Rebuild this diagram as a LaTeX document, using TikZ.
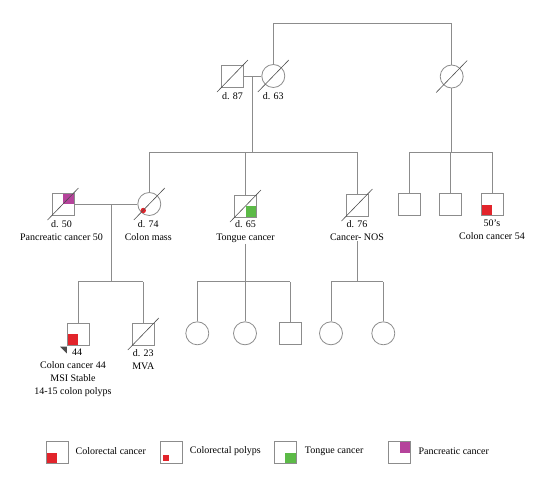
\documentclass[tikz,border=0pt]{standalone}
\usepackage{fontspec}
\setmainfont{Liberation Serif}
\usetikzlibrary{positioning}
\definecolor{pedline}{HTML}{8C8C8C}
\definecolor{slashline}{HTML}{4D4D4D}
\definecolor{colorectal}{HTML}{E2242B}
\definecolor{tongue}{HTML}{5CBA47}
\definecolor{pancreatic}{HTML}{B5439B}
\tikzset{
  male/.style={draw=pedline, line width=0.8pt, minimum size=22pt, inner sep=0pt},
  female/.style={circle, draw=pedline, line width=0.8pt, minimum size=23pt, inner sep=0pt},
  pedlab/.style={font=\fontsize{10}{13}\selectfont, align=center, inner sep=1pt},
  link/.style={draw=pedline, line width=0.8pt},
  lowleft/.style={path picture={\fill[#1] (path picture bounding box.south west) rectangle (path picture bounding box.center);}},
  lowright/.style={path picture={\fill[#1] (path picture bounding box.south east) rectangle (path picture bounding box.center);}},
  upright/.style={path picture={\fill[#1] (path picture bounding box.north east) rectangle (path picture bounding box.center);}},
  polypdot/.style={path picture={\fill[colorectal] ([shift={(2.7pt,2.6pt)}]path picture bounding box.south west) rectangle ++(5.6pt,5.6pt);}}
}
\newcommand{\deceased}[1]{\draw[slashline, line width=0.6pt] (#1.center) ++(-15.5,16) -- ++(31,-32);}

\begin{document}
\begin{tikzpicture}[x=1pt, y=-1pt]
  \useasboundingbox (0,0) rectangle (550,482);

  % Generation I
  \node[male] (gf) at (232.5,76) {};
  \node[female] (gm) at (273.3,76) {};
  \node[female] (rgm) at (451.7,76.5) {};
  \deceased{gf} \deceased{gm} \deceased{rgm}
  \node[pedlab, below=3.5pt of gf] (gflab) {d. 87};
  \node[pedlab, below=3pt of gm] (gmlab) {d. 63};
  \coordinate (top) at (451.7,23.3);
  \draw[link] (gm.north) -- (gm |- top) -| (rgm.north);
  \draw[link] (gf) -- (gm);

  % Generation II
  \coordinate (m1) at (252.7,76);
  \coordinate (s1) at (252.7,152);
  \node[male, upright=pancreatic] (pc) at (63,204) {};
  \node[female] (cm) at (149.3,204) {};
  \node[male, lowright=tongue] (tc) at (245.5,206) {};
  \node[male] (nos) at (357,205) {};
  \fill[colorectal] (cm.center) ++(-6,6.5) circle (2.7pt);
  \deceased{pc} \deceased{cm} \deceased{tc} \deceased{nos}
  \draw[link] (m1) -- (s1);
  \draw[link] (cm |- s1) -- (nos |- s1);
  \foreach \kid in {cm, tc, nos} {
    \draw[link] (\kid) -- (\kid |- s1);
  }
  \draw[link] (pc) -- (cm);
  \node[pedlab, below=3.5pt of pc, xshift=-1.5pt] (pclab) {d. 50\\Pancreatic cancer 50};
  \node[pedlab, below=3.5pt of cm, xshift=-1pt] (cmlab) {d. 74\\Colon mass};
  \node[pedlab, below=2pt of tc] (tclab) {d. 65\\Tongue cancer};
  \node[pedlab, below=2.5pt of nos] (noslab) {d. 76\\Cancer- NOS};

  % right branch
  \coordinate (s2) at (451.7,152);
  \node[male] (rs1) at (409.5,204.5) {};
  \node[male] (rs2) at (450.5,204.5) {};
  \node[male, lowleft=colorectal] (rs3) at (492,204.5) {};
  \draw[link] (rgm) -- (rgm |- s2);
  \draw[link] (rs1 |- s2) -- (rs3 |- s2);
  \foreach \kid in {rs1, rs2, rs3} {
    \draw[link] (\kid) -- (\kid |- s2);
  }
  \node[pedlab, below=3pt of rs3] (rs3lab) {50's\\Colon cancer 54};

  % Generation III
  \coordinate (m2) at (111,204);
  \coordinate (s3) at (111,281.5);
  \coordinate (s4) at (245.5,281.5);
  \coordinate (s5) at (357,281.5);
  \node[male, lowleft=colorectal] (pb) at (78,334) {};
  \node[male] (mva) at (143.3,334) {};
  \deceased{mva}
  \node[female] (t1) at (197.3,333.3) {};
  \node[female] (t2) at (245,333.3) {};
  \node[male] (t3) at (290,333.3) {};
  \node[female] (n1) at (331,333.3) {};
  \node[female] (n2) at (383.3,333.3) {};
  \draw[link] (m2) -- (s3);
  \draw[link] (tclab) -- (s4);
  \draw[link] (noslab) -- (s5);
  \draw[link] (pb |- s3) -- (mva |- s3);
  \draw[link] (t1 |- s4) -- (t3 |- s4);
  \draw[link] (n1 |- s5) -- (n2 |- s5);
  \foreach \kid/\line in {pb/s3, mva/s3, t1/s4, t2/s4, t3/s4, n1/s5, n2/s5} {
    \draw[link] (\kid) -- (\kid |- \line);
  }
  \path ([shift={(0.3pt,-1.3pt)}]pb.south west) coordinate (pa);
  \fill[slashline] (pa) -- ++(-6.7pt,0) -- ++(6.7pt,-6.7pt) -- cycle;
  \node[pedlab, below=2.5pt of pb, xshift=-5pt] (pblab) {\hspace*{8pt}44\\Colon cancer 44\\MSI Stable\\14-15 colon polyps};
  \node[pedlab, below=2.5pt of mva] (mvalab) {d. 23\\MVA};

  % legend
  \node[male, lowleft=colorectal] (lg1) at (57,452.5) {};
  \node[male, polypdot] (lg2) at (171.3,452.5) {};
  \node[male, lowright=tongue] (lg3) at (285.3,452.5) {};
  \node[male, upright=pancreatic] (lg4) at (399.5,452.5) {};
  \node[pedlab, right=6pt of lg1, yshift=1.5pt] (lg1lab) {Colorectal cancer};
  \node[pedlab, right=6pt of lg2, yshift=1.5pt] (lg2lab) {Colorectal polyps};
  \node[pedlab, right=7pt of lg3, yshift=1.5pt] (lg3lab) {Tongue cancer};
  \node[pedlab, right=6.5pt of lg4, yshift=1.5pt] (lg4lab) {Pancreatic cancer};
\end{tikzpicture}
\end{document}
